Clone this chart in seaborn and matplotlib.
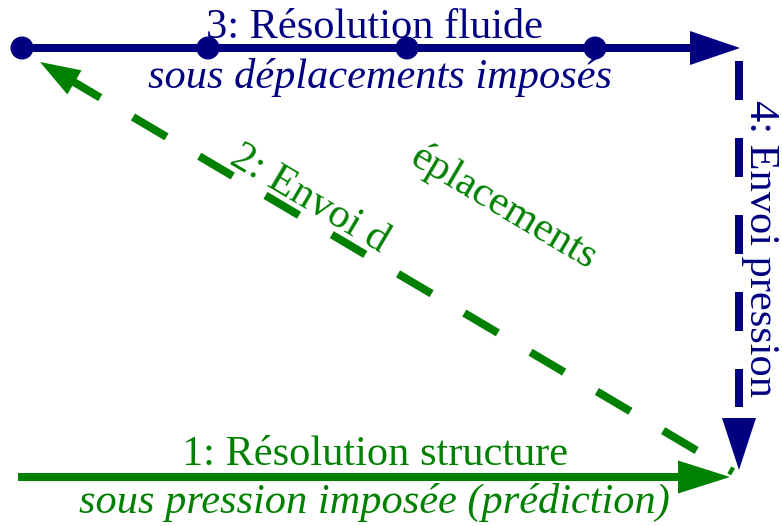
import numpy as np
import matplotlib
matplotlib.use("Agg")
import matplotlib.pyplot as plt
from matplotlib.patches import Polygon
import seaborn as sns

# ---- data (pixel-space diagram coordinates) ----
node_x = [22, 208, 407, 595]
node_y = [48, 48, 48, 48]

# arrows: (start, tip)
arrow_fluide = ((22, 48), (740, 48))        # 3: Résolution fluide
arrow_structure = ((18, 477), (730, 477))   # 1: Résolution structure
arrow_pression = ((739, 61), (739, 470))    # 4: Envoi pression
arrow_depl = ((733, 472), (40, 62))         # 2: Envoi déplacements

labels_top = ["3: Résolution fluide", "sous déplacements imposés"]
labels_bottom = ["1: Résolution structure", "sous pression imposée (prédiction)"]
label_right = "4: Envoi pression"
labels_diag = ["2: Envoi d", "éplacements"]

NAVY = "#000080"
GREEN = "#008000"

sns.set_theme(style="white")
plt.rcParams["font.family"] = ["Liberation Serif", "DejaVu Serif"]
plt.rcParams["lines.scale_dashes"] = False

fig = plt.figure(figsize=(7.82, 5.26), dpi=100)
ax = fig.add_axes([0, 0, 1, 1])
ax.set_xlim(0, 782)
ax.set_ylim(526, 0)
ax.axis("off")

PX = 0.72  # points per pixel at dpi 100
LW = 8 * PX


def head(tip, start, length, width, color):
    tip = np.array(tip, float)
    start = np.array(start, float)
    u = (tip - start) / np.linalg.norm(tip - start)
    n = np.array([-u[1], u[0]])
    base = tip - length * u
    pts = [tip, base + n * width / 2, base - n * width / 2]
    ax.add_patch(Polygon(pts, closed=True, color=color, lw=0, zorder=4))
    return base


# top solid arrow (navy)
s, t = arrow_fluide
b = head(t, s, 50, 34, NAVY)
ax.plot([s[0], b[0] + 2], [s[1], b[1]], color=NAVY, lw=LW, solid_capstyle="butt", zorder=3)

# bottom solid arrow (green)
s, t = arrow_structure
b = head(t, s, 52, 33, GREEN)
ax.plot([s[0], b[0] + 2], [s[1], b[1]], color=GREEN, lw=LW, solid_capstyle="butt", zorder=3)

# right dashed arrow (navy)
s, t = arrow_pression
b = head(t, s, 52, 34, NAVY)
ax.plot([s[0], b[0]], [s[1], b[1] - 11], color=NAVY, lw=LW,
        linestyle=(0, (39 * PX, 38 * PX)), zorder=3)

# diagonal dashed arrow (green), dashes drawn from the tip side
s, t = arrow_depl
head(t, s, 40, 28, GREEN)
ax.plot([t[0], s[0]], [t[1], s[1]], color=GREEN, lw=LW,
        linestyle=(46 * PX, (39 * PX, 38 * PX)), zorder=3)

# nodes
sns.scatterplot(x=node_x, y=node_y, s=275, color=NAVY, edgecolor="none",
                ax=ax, zorder=5, legend=False)

FS = 30.5
ax.text(375, 38, labels_top[0], color=NAVY, fontsize=FS, ha="center", va="baseline", zorder=2)
ax.text(380, 88, labels_top[1], color=NAVY, fontsize=FS, style="italic",
        ha="center", va="baseline", zorder=2)
ax.text(375, 465, labels_bottom[0], color=GREEN, fontsize=FS, ha="center", va="baseline", zorder=2)
ax.text(374, 513, labels_bottom[1], color=GREEN, fontsize=FS, style="italic",
        ha="center", va="baseline", zorder=2)
ax.text(750, 248, label_right, color=NAVY, fontsize=FS, rotation=-90,
        rotation_mode="anchor", ha="center", va="baseline", zorder=2)
ax.text(228, 163, labels_diag[0], color=GREEN, fontsize=FS, rotation=-30.6,
        rotation_mode="anchor", ha="left", va="baseline", zorder=2)
ax.text(408, 163, labels_diag[1], color=GREEN, fontsize=FS, rotation=-30.6,
        rotation_mode="anchor", ha="left", va="baseline", zorder=2)

fig.savefig("out.png", dpi=100, facecolor="white")
